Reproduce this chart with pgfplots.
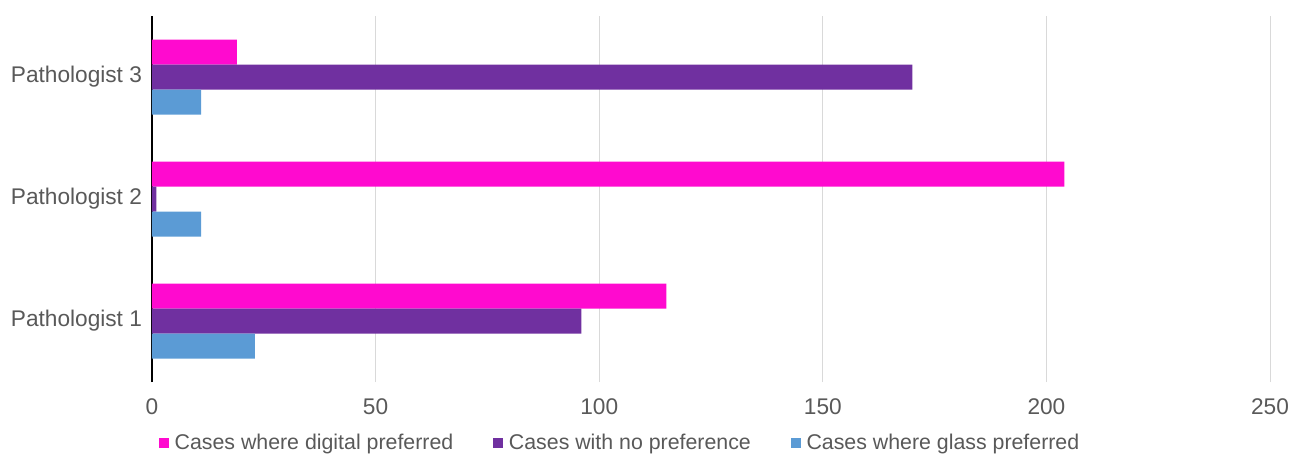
\documentclass[border=0pt]{standalone}
\usepackage{pgfplots}
\pgfplotsset{compat=1.18}
\usepackage{fontspec}
\setmainfont{Liberation Sans}
\definecolor{cpink}{HTML}{FF0ACF}
\definecolor{cpurple}{HTML}{7030A0}
\definecolor{cblue}{HTML}{5B9BD5}
\definecolor{txt}{HTML}{595959}
\definecolor{gridc}{HTML}{D9D9D9}
\begin{document}
\begin{tikzpicture}
\begin{axis}[
  scale only axis, width=838.5pt, height=274.5pt,
  xbar, bar width=18.75pt,
  xmin=0, xmax=250, ymin=0.5, ymax=3.5,
  xtick={0,50,...,250}, ytick={1,2,3},
  yticklabels={Pathologist 1, Pathologist 2, Pathologist 3},
  xmajorgrids, major grid style={gridc, line width=0.75pt},
  axis x line*=bottom, x axis line style={draw=none},
  axis y line*=left, y axis line style={black, line width=1pt, -},
  tick style={draw=none}, major tick length=0pt,
  /pgf/number format/assume math mode=true,
  tick label style={font=\fontsize{17}{20}\selectfont, text=txt},
  xticklabel style={yshift=-9pt},
  yticklabel style={xshift=-4pt},
  legend columns=3,
  legend style={draw=none, at={(0.419,-0.167)}, anchor=center,
    font=\fontsize{16}{19}\selectfont, text=txt,
    /tikz/every odd column/.append style={column sep=2.25pt},
    /tikz/every even column/.append style={column sep=28pt}},
  legend image code/.code={\fill[#1] (0pt,-3.75pt) rectangle (7.5pt,3.75pt);},
]
\addplot[fill=cpink, draw=none, bar shift=18.75pt] coordinates {(115,1) (204,2) (19,3)};
\addplot[fill=cpurple, draw=none, bar shift=0pt] coordinates {(96,1) (1,2) (170,3)};
\addplot[fill=cblue, draw=none, bar shift=-18.75pt] coordinates {(23,1) (11,2) (11,3)};
\legend{Cases where digital preferred, Cases with no preference, Cases where glass preferred}
\coordinate (BL) at (rel axis cs:0,0);
\coordinate (TR) at (rel axis cs:1,1);
\end{axis}
\pgfresetboundingbox
\path[use as bounding box] ([shift={(-114pt,-54pt)}]BL) rectangle ([shift={(15pt,12pt)}]TR);
\end{tikzpicture}
\end{document}
